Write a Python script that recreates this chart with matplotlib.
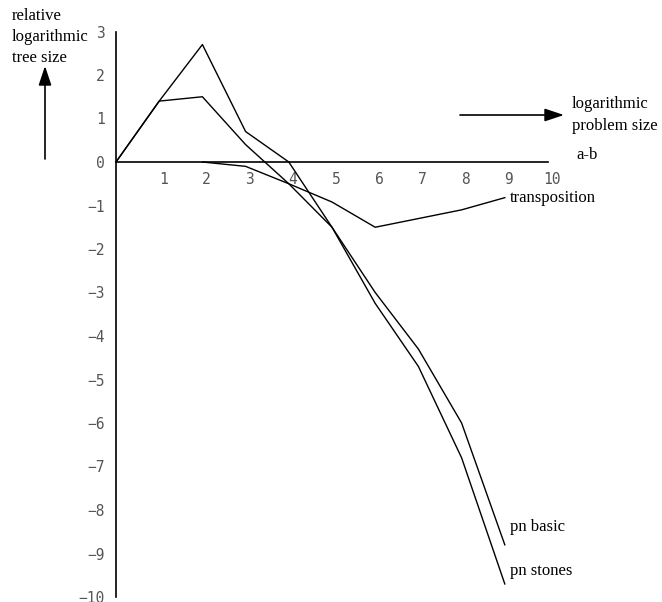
import matplotlib
matplotlib.use("Agg")
import matplotlib.pyplot as plt
import matplotlib.transforms as mtransforms
from matplotlib.patches import FancyArrowPatch

# ---- data ----
x_vals = [0, 1, 2, 3, 4, 5, 6, 7, 8, 9]
pn_stones = [0, 1.4, 2.7, 0.7, 0.0, -1.5, -3.25, -4.7, -6.8, -9.7]
pn_basic = [0, 1.4, 1.5, 0.4, -0.5, -1.5, -3.0, -4.3, -6.0, -8.8]
trans_x = [2, 3, 4, 5, 6, 7, 8, 9]
transposition = [0.0, -0.1, -0.5, -0.92, -1.5, -1.3, -1.1, -0.82]
x_ticks = [1, 2, 3, 4, 5, 6, 7, 8, 9, 10]
y_ticks = [3, 2, 1, 0, -1, -2, -3, -4, -5, -6, -7, -8, -9, -10]

W, H = 662, 602
fig = plt.figure(figsize=(W / 100, H / 100), dpi=100)
left, right = 116 / W, 548 / W
bottom, top = (H - 597) / H, (H - 31.5) / H
ax = fig.add_axes([left, bottom, right - left, top - bottom])

lw = 1.0
ax.plot(x_vals, pn_stones, color="black", lw=lw)
ax.plot(x_vals, pn_basic, color="black", lw=lw)
ax.plot(trans_x, transposition, color="black", lw=lw)

ax.set_xlim(0, 10)
ax.set_ylim(-10, 3)

for s in ["top", "right"]:
    ax.spines[s].set_visible(False)
ax.spines["bottom"].set_position(("data", 0))
ax.spines["bottom"].set_linewidth(1.2)
ax.spines["left"].set_linewidth(1.2)

ax.set_xticks(x_ticks)
ax.set_xticklabels([str(v) for v in x_ticks])
ax.set_yticks(y_ticks)
ax.set_yticklabels([("\u2212" + str(-v)) if v < 0 else str(v) for v in y_ticks])
ax.tick_params(axis="both", length=0, labelsize=10.5, colors="#555555")
ax.tick_params(axis="x", pad=7)
ax.tick_params(axis="y", pad=8)
for lab in ax.get_xticklabels() + ax.get_yticklabels():
    lab.set_family("DejaVu Sans Mono")
offset = mtransforms.ScaledTranslation(4 / 100, 0, fig.dpi_scale_trans)
for lab in ax.get_xticklabels():
    lab.set_transform(lab.get_transform() + offset)

serif = "Liberation Serif"
fs = 12
# series labels
ax.text(10.65, 0.16, "a-b", family=serif, fontsize=fs, va="center", ha="left")
ax.text(9.12, -0.83, "transposition", family=serif, fontsize=fs, va="center", ha="left")
ax.text(9.12, -8.39, "pn basic", family=serif, fontsize=fs, va="center", ha="left")
ax.text(9.12, -9.4, "pn stones", family=serif, fontsize=fs, va="center", ha="left")

# axis descriptions (figure pixel coords)
def fx(px):
    return px / W

def fy(py):
    return 1 - py / H

fig.text(fx(12), fy(37), "relative\nlogarithmic\ntree size", family=serif,
         fontsize=fs, va="center", ha="left", linespacing=1.45)
fig.text(fx(572), fy(115), "logarithmic\nproblem size", family=serif,
         fontsize=fs, va="center", ha="left", linespacing=1.45)

arrow_kw = dict(arrowstyle="-|>,head_length=0.9,head_width=0.3", color="black", lw=1.2,
                shrinkA=0, shrinkB=0, mutation_scale=13)
fig.add_artist(FancyArrowPatch((fx(45), fy(159)), (fx(45), fy(66)),
                               transform=fig.transFigure, **arrow_kw))
fig.add_artist(FancyArrowPatch((fx(460), fy(115)), (fx(564), fy(115)),
                               transform=fig.transFigure, **arrow_kw))

fig.savefig("out.png", dpi=100)
